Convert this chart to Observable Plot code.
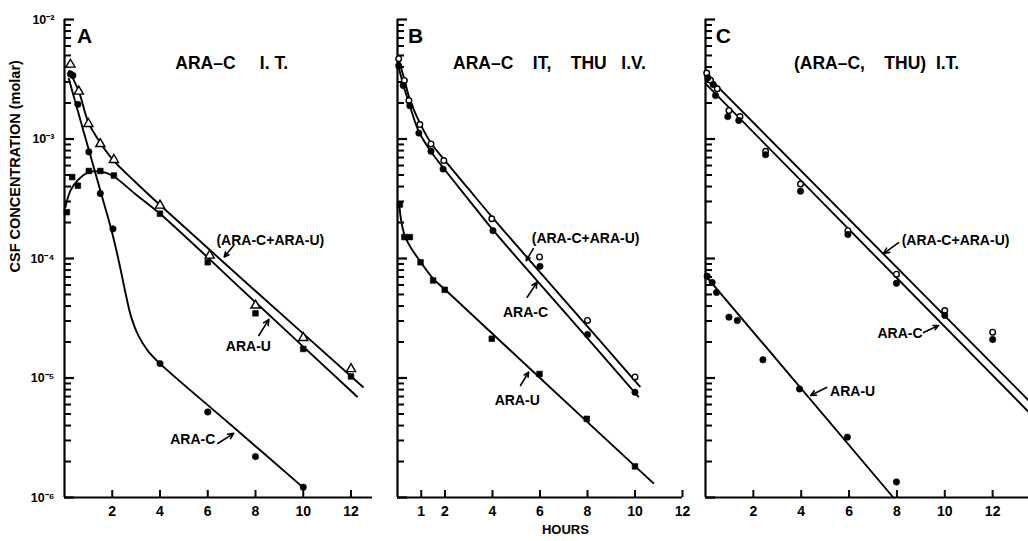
<!DOCTYPE html>
<html><head><meta charset="utf-8">
<script src="https://cdn.jsdelivr.net/npm/d3@7"></script>
<script src="https://cdn.jsdelivr.net/npm/@observablehq/plot@0.6"></script>
<style>
html,body{margin:0;padding:0;background:#fff;overflow:hidden;width:1028px;height:541px;}
#wrap{position:relative;width:1028px;height:541px;overflow:hidden;}
.panel{position:absolute;top:0;}
.panel svg{max-width:none !important;}
svg{font-family:"Liberation Sans",Arial,sans-serif;font-weight:bold;}
</style></head><body><div id="wrap"></div>
<script>
// ---------- axis ticks ----------
const majorY = [1e-6, 1e-5, 1e-4, 1e-3, 1e-2];
const yTickLabels = ["10\u207B\u2076", "10\u207B\u2075", "10\u207B\u2074", "10\u207B\u00B3", "10\u207B\u00B2"];
const minorMultipliers = [2, 3, 4, 5, 6, 7, 8, 9];
const minorY = majorY.slice(0, 4).flatMap(d => minorMultipliers.map(m => m * d));
const xTicksA = [2, 4, 6, 8, 10, 12];
const xTicksB = [1, 2, 4, 6, 8, 10, 12];
const xTicksC = [2, 4, 6, 8, 10, 12];

// ---------- Panel A : ARA-C I.T. (observed) ----------
const aTotalT = [0.25, 0.6, 1.0, 1.5, 2.07, 4.0, 6.08, 8.0, 10.0, 12.0];
const aTotalC = [4.2e-3, 2.5e-3, 1.34e-3, 9.1e-4, 6.7e-4, 2.78e-4, 1.06e-4, 4.05e-5, 2.17e-5, 1.19e-5];
const aCT = [0.25, 0.35, 0.56, 1.02, 1.5, 2.03, 4.0, 6.0, 8.0, 10.0];
const aCC = [3.5e-3, 3.4e-3, 1.95e-3, 7.8e-4, 3.5e-4, 1.77e-4, 1.32e-5, 5.2e-6, 2.2e-6, 1.22e-6];
const aUT = [0.1, 0.32, 0.56, 1.02, 1.5, 2.07, 4.0, 6.0, 8.0, 10.0, 12.0];
const aUC = [2.44e-4, 4.8e-4, 4.07e-4, 5.4e-4, 5.4e-4, 4.95e-4, 2.37e-4, 9.3e-5, 3.48e-5, 1.75e-5, 1.03e-5];
// fitted curves
const aTotalFitT = [0.2, 0.6, 1.0, 1.5, 2.0, 3.0, 4.0, 8.0, 12.5];
const aTotalFitC = [3.7e-3, 2.5e-3, 1.38e-3, 9.3e-4, 6.8e-4, 4.3e-4, 2.8e-4, 5.35e-5, 8.4e-6];
const aUFitT = [0.04, 0.25, 0.55, 1.0, 1.5, 2.0, 3.0, 4.0, 8.0, 12.25];
const aUFitC = [2.7e-4, 3.7e-4, 4.5e-4, 5.25e-4, 5.35e-4, 4.95e-4, 3.42e-4, 2.37e-4, 4.3e-5, 7.0e-6];
const aCFitT = [0.18, 0.6, 1.0, 1.5, 2.0, 2.3, 2.55, 2.8, 3.1, 3.5, 4.0, 7.0, 10.0];
const aCFitC = [3.2e-3, 1.6e-3, 8.35e-4, 3.7e-4, 1.63e-4, 9e-5, 5.2e-5, 3.2e-5, 2.25e-5, 1.68e-5, 1.32e-5, 4.0e-6, 1.21e-6];

// ---------- Panel B : ARA-C IT, THU I.V. ----------
const bTotalT = [0.05, 0.29, 0.48, 0.94, 1.41, 1.95, 3.97, 5.98, 8.0, 10.0];
const bTotalC = [4.7e-3, 3.09e-3, 2.1e-3, 1.32e-3, 9.1e-4, 6.6e-4, 2.15e-4, 1.03e-4, 3.03e-5, 1.02e-5];
const bCT = [0.05, 0.24, 0.52, 0.9, 1.41, 1.92, 4.02, 6.0, 8.0, 10.0];
const bCC = [4.1e-3, 2.8e-3, 1.9e-3, 1.12e-3, 7.9e-4, 5.6e-4, 1.71e-4, 8.6e-5, 2.31e-5, 7.6e-6];
const bUT = [0.1, 0.29, 0.52, 0.97, 1.5, 1.99, 3.97, 5.98, 7.97, 10.0];
const bUC = [2.83e-4, 1.51e-4, 1.51e-4, 9.3e-5, 6.55e-5, 5.47e-5, 2.13e-5, 1.08e-5, 4.55e-6, 1.82e-6];
const bTotalFitT = [0.05, 0.3, 0.5, 0.95, 1.4, 2.0, 3.0, 4.0, 7.0, 10.2];
const bTotalFitC = [4.6e-3, 3.1e-3, 2.2e-3, 1.35e-3, 9.3e-4, 6.6e-4, 3.8e-4, 2.2e-4, 4.55e-5, 8.5e-6];
const bCFitT = [0.05, 0.25, 0.5, 0.9, 1.4, 2.0, 3.0, 4.0, 7.0, 10.14];
const bCFitC = [4.0e-3, 2.8e-3, 1.95e-3, 1.15e-3, 7.9e-4, 5.5e-4, 3.1e-4, 1.75e-4, 3.63e-5, 7.0e-6];
const bUFitT = [0.08, 0.15, 0.3, 0.55, 1.0, 1.5, 2.0, 6.0, 10.77];
const bUFitC = [2.8e-4, 2.1e-4, 1.56e-4, 1.24e-4, 9.2e-5, 6.8e-5, 5.5e-5, 1.0e-5, 1.32e-6];

// ---------- Panel C : (ARA-C, THU) I.T. ----------
const cTotalT = [0.05, 0.21, 0.49, 0.98, 1.44, 2.51, 3.97, 5.95, 7.98, 10.0, 12.0];
const cTotalC = [3.56e-3, 3.1e-3, 2.63e-3, 1.73e-3, 1.54e-3, 7.9e-4, 4.2e-4, 1.71e-4, 7.4e-5, 3.67e-5, 2.42e-5];
const cCT = [0.1, 0.32, 0.42, 0.93, 1.39, 2.51, 3.97, 5.95, 7.98, 10.0, 12.0];
const cCC = [3.25e-3, 2.86e-3, 2.31e-3, 1.54e-3, 1.43e-3, 7.4e-4, 3.66e-4, 1.59e-4, 6.2e-5, 3.34e-5, 2.1e-5];
const cUT = [0.07, 0.28, 0.46, 0.98, 1.33, 2.4, 3.93, 5.93, 7.98];
const cUC = [7.1e-5, 6.3e-5, 5.2e-5, 3.23e-5, 3.03e-5, 1.42e-5, 8.1e-6, 3.2e-6, 1.35e-6];
const cTotalFitT = [0, 13.6];
const cTotalFitC = [3.47e-3, 6.2e-6];
const cCFitT = [0, 13.6];
const cCFitC = [2.91e-3, 4.97e-6];
const cUFitT = [0, 7.85];
const cUFitC = [7.2e-5, 1.0e-6];

// ---------- annotations (data units: hours, molar) ----------
const panelLetters = ["A", "B", "C"];
const letterT = [0.84, 0.76, 0.75];
const letterC = 7.2e-3;
const NB = "\u00A0";
const titles = [
  "ARA\u2013C" + NB.repeat(5) + "I." + NB + "T.",
  "ARA\u2013C" + NB.repeat(4) + "IT," + NB.repeat(4) + "THU" + NB.repeat(3) + "I.V.",
  "(ARA\u2013C," + NB.repeat(4) + "THU)" + NB.repeat(2) + "I.T."
];
const titleT = [7.0, 6.4, 7.15];
const titleC = 4.28e-3;
const labelTextA = ["(ARA-C+ARA-U)", "ARA-U", "ARA-C"];
const labelTA = [8.62, 7.70, 5.37];
const labelCA = [1.42e-4, 1.84e-5, 3.05e-6];
const arrowA = {t1: [7.10, 8.14, 6.42], c1: [1.30e-4, 2.27e-5, 2.83e-6], t2: [6.69, 8.56, 7.09], c2: [1.03e-4, 3.09e-5, 3.44e-6]};
const labelTextB = ["(ARA-C+ARA-U)", "ARA-C", "ARA-U"];
const labelTB = [7.92, 5.39, 5.04];
const labelCB = [1.47e-4, 3.53e-5, 6.49e-6];
const arrowB = {t1: [5.72, 5.46, 5.18], c1: [1.21e-4, 4.74e-5, 8.65e-6], t2: [5.42, 5.88, 5.52], c2: [9.6e-5, 6.34e-5, 1.12e-5]};
const labelTextC = ["(ARA-C+ARA-U)", "ARA-C", "ARA-U"];
const labelTC = [10.45, 8.13, 6.15];
const labelCC = [1.42e-4, 2.36e-5, 7.71e-6];
const arrowC = {t1: [8.07, 9.11, 5.06], c1: [1.36e-4, 2.40e-5, 8.34e-6], t2: [7.44, 9.74, 4.39], c2: [1.10e-4, 2.75e-5, 7.14e-6]};
const yAxisLabel = "CSF CONCENTRATION (molar)";
const xAxisLabel = "HOURS";
const xAxisLabelT = 7.07;

// ---------- helpers ----------
const pts = (t, c) => t.map((x, i) => ({t: x, c: c[i]}));
const lbls = (t, c, s) => t.map((x, i) => ({t: x, c: Array.isArray(c) ? c[i] : c, s: s[i]}));
const arr = a => a.t1.map((x, i) => ({t1: x, c1: a.c1[i], t2: a.t2[i], c2: a.c2[i]}));

const FONT = '"Liberation Sans", Arial, sans-serif';
const HEIGHT = 541, MT = 19, MB = 44;

function panel(cfg) {
  const plotW = cfg.width - cfg.marginLeft - cfg.marginRight;
  const plotH = HEIGHT - MT - MB;
  const hx = px => px * cfg.xmax / plotW;               // pixel length -> hours
  const cy = px => 1e-6 * Math.pow(10, px * 4 / plotH);  // pixel height above bottom -> molar
  const marks = [
    // inward ticks
    Plot.ruleY(majorY, {x1: 0, x2: hx(10), strokeWidth: 2.2}),
    Plot.ruleY(minorY, {x1: 0, x2: hx(7), strokeWidth: 2}),
    Plot.ruleX(cfg.xticks, {y1: 1e-6, y2: cy(7), strokeWidth: 2}),
    Plot.ruleX([0], {y1: 1e-6, y2: 1e-2, strokeWidth: 2.2}),
    Plot.ruleY([1e-6], {x1: 0, x2: cfg.xmax, strokeWidth: 2.2}),
    Plot.axisX(cfg.xticks, {tickSize: 0, tickPadding: 9, fontSize: 14, fontWeight: "bold", label: null})
  ];
  if (cfg.yLabels) {
    marks.push(Plot.axisY(majorY, {tickSize: 0, tickPadding: 10, fontSize: 12.5, fontWeight: "bold",
      tickFormat: d => yTickLabels[majorY.indexOf(d)], label: null}));
    marks.push(Plot.text([yAxisLabel], {frameAnchor: "left", dx: -49, dy: 14, rotate: -90, fontSize: 14.5, fontWeight: "bold"}));
  } else {
    marks.push(Plot.axisY([], {label: null}));
  }
  if (cfg.xLabel) {
    marks.push(Plot.text([{t: xAxisLabelT, s: xAxisLabel}], {x: "t", text: "s", frameAnchor: "bottom", dy: 36, fontSize: 13, fontWeight: "bold"}));
  }
  for (const c of cfg.curves) {
    marks.push(Plot.line(c, {x: "t", y: "c", curve: "catmull-rom", strokeWidth: 1.9}));
  }
  for (const s of cfg.series) {
    marks.push(Plot.dot(s.data, {x: "t", y: "c", symbol: s.symbol, r: s.r,
      fill: s.open ? "white" : "black", stroke: "black", strokeWidth: s.open ? 1.4 : 0.6}));
  }
  marks.push(Plot.text([{t: cfg.letterT, c: letterC, s: cfg.letter}], {x: "t", y: "c", text: "s", fontSize: 21, fontWeight: "bold"}));
  marks.push(Plot.text([{t: cfg.titleT, c: titleC, s: cfg.title}], {x: "t", y: "c", text: "s", fontSize: 17.5, fontWeight: "bold"}));
  marks.push(Plot.text(cfg.labels, {x: "t", y: "c", text: "s", fontSize: 14, fontWeight: "bold"}));
  marks.push(Plot.arrow(cfg.arrows, {x1: "t1", y1: "c1", x2: "t2", y2: "c2", headLength: 6, headAngle: 50, strokeWidth: 1.6}));

  const svg = Plot.plot({
    width: cfg.width, height: HEIGHT,
    marginLeft: cfg.marginLeft, marginRight: cfg.marginRight, marginTop: MT, marginBottom: MB,
    x: {domain: [0, cfg.xmax]},
    y: {type: "log", domain: [1e-6, 1e-2]},
    style: {fontFamily: FONT, fontWeight: "bold", color: "black", background: "transparent", overflow: "visible", maxWidth: "none"},
    marks
  });
  const div = document.createElement("div");
  div.className = "panel";
  div.style.left = cfg.left + "px";
  div.style.width = cfg.width + "px";
  div.appendChild(svg);
  document.getElementById("wrap").appendChild(div);
}

panel({
  left: 0, width: 380, marginLeft: 64, marginRight: 8, xmax: 12.9, xticks: xTicksA, yLabels: true,
  letter: panelLetters[0], letterT: letterT[0], title: titles[0], titleT: titleT[0],
  curves: [pts(aTotalFitT, aTotalFitC), pts(aUFitT, aUFitC), pts(aCFitT, aCFitC)],
  series: [
    {data: pts(aTotalT, aTotalC), symbol: "triangle", r: 3.4, open: true},
    {data: pts(aUT, aUC), symbol: "square", r: 3.2, open: false},
    {data: pts(aCT, aCC), symbol: "circle", r: 3.2, open: false}
  ],
  labels: lbls(labelTA, labelCA, labelTextA), arrows: arr(arrowA)
});
panel({
  left: 380, width: 310, marginLeft: 17, marginRight: 8, xmax: 12, xticks: xTicksB, xLabel: true,
  letter: panelLetters[1], letterT: letterT[1], title: titles[1], titleT: titleT[1],
  curves: [pts(bTotalFitT, bTotalFitC), pts(bCFitT, bCFitC), pts(bUFitT, bUFitC)],
  series: [
    {data: pts(bTotalT, bTotalC), symbol: "circle", r: 2.8, open: true},
    {data: pts(bCT, bCC), symbol: "circle", r: 3.2, open: false},
    {data: pts(bUT, bUC), symbol: "square", r: 3.2, open: false}
  ],
  labels: lbls(labelTB, labelCB, labelTextB), arrows: arr(arrowB)
});
panel({
  left: 690, width: 360, marginLeft: 15, marginRight: 10, xmax: 14, xticks: xTicksC,
  letter: panelLetters[2], letterT: letterT[2], title: titles[2], titleT: titleT[2],
  curves: [pts(cTotalFitT, cTotalFitC), pts(cCFitT, cCFitC), pts(cUFitT, cUFitC)],
  series: [
    {data: pts(cTotalT, cTotalC), symbol: "circle", r: 2.8, open: true},
    {data: pts(cCT, cCC), symbol: "circle", r: 3.2, open: false},
    {data: pts(cUT, cUC), symbol: "circle", r: 3.2, open: false}
  ],
  labels: lbls(labelTC, labelCC, labelTextC), arrows: arr(arrowC)
});
</script></body></html>
